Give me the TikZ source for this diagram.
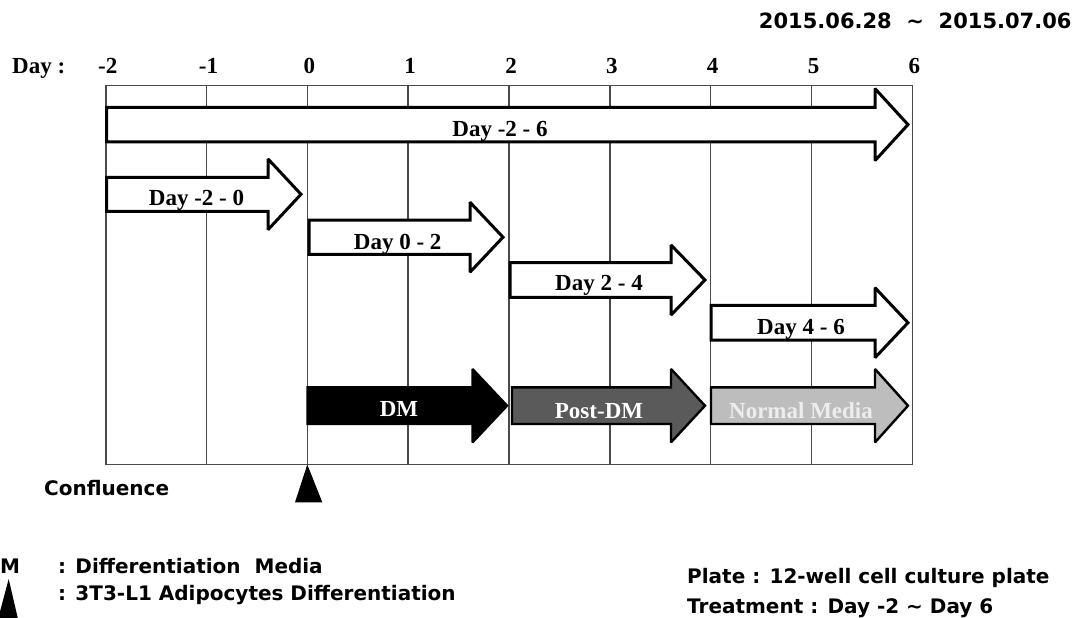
\documentclass[tikz,border=0pt]{standalone}
\usepackage{fontspec}
\setmainfont{Liberation Serif}
\newfontfamily\kosans{DejaVu Sans}
\definecolor{gridgray}{HTML}{4A4A4A}
\definecolor{postgray}{HTML}{5A5A5A}
\definecolor{normgray}{HTML}{BDBDBD}
\definecolor{normtext}{HTML}{EDEDED}
\newcommand\tlarrow[7]{\draw[#1] (#2,#5-#6) -- (#3,#5-#6) -- (#3,#5-#7) -- (#4,#5) -- (#3,#5+#7) -- (#3,#5+#6) -- (#2,#5+#6) -- cycle;}
\tikzset{
  gridline/.style={draw=gridgray, line width=1.6pt},
  outarrow/.style={draw=black, line width=3pt, fill=white, line join=miter, miter limit=2},
  media/.style={draw=black, line width=2.4pt, line join=miter, miter limit=2},
  lab/.style={font=\fontsize{23}{23}\selectfont\bfseries, inner sep=0pt, anchor=base},
  sans/.style={font=\kosans\bfseries\fontsize{20}{20}\selectfont, inner sep=0pt, anchor=base west},
}
\begin{document}
\begin{tikzpicture}[x=1pt,y=-1pt]
\useasboundingbox (0,0) rectangle (1079,618);
% grid
\draw[gridline] (105.7,85.5) rectangle (912.3,464.5);
\foreach \i in {1,...,7} {\draw[gridline] (105.7+\i*100.83,85.5) -- (105.7+\i*100.83,464.5);}
% axis labels
\node[lab, anchor=base west] (daylab) at (12,73.5) {Day :};
\foreach \d [count=\k from 0] in {-2,-1,0,1,2,3,4,5,6} {
  \node[lab] (ax\k) at (107.7+\k*100.83,73.5) {\d};
}
% outlined arrows
\tlarrow{outarrow}{106.5}{875}{908}{124.6}{17.2}{36}
\tlarrow{outarrow}{106.5}{268}{301}{194.3}{17}{35.4}
\tlarrow{outarrow}{309}{470}{503}{237.2}{17.1}{35}
\tlarrow{outarrow}{510}{671}{705}{280}{17.3}{35}
\tlarrow{outarrow}{711}{875}{908}{322.7}{17.3}{35}
\node[lab] (a1) at (500,136.7) {Day -2 - 6};
\node[lab] (a2) at (196.5,205) {Day -2 - 0};
\node[lab] (a3) at (397.7,249.3) {Day 0 - 2};
\node[lab] (a4) at (599,290.7) {Day 2 - 4};
\node[lab] (a5) at (801,334) {Day 4 - 6};
% media arrows
\tlarrow{media, fill=black}{307.5}{472.5}{507}{405.7}{18.3}{36.7}
\tlarrow{media, fill=postgray}{512}{671}{705}{405.7}{18.3}{36.7}
\tlarrow{media, fill=normgray}{711}{875}{908}{405.7}{18.3}{36.7}
\node[lab, text=white] (dm) at (399,416.7) {DM};
\node[lab, text=white] (pdm) at (599,418) {Post-DM};
\node[lab, text=normtext] (nm) at (801,418) {Normal Media};
% confluence marker
\fill (307.3,464.5) -- (322.3,502.3) -- (295,502.3) -- cycle;
\node[sans] (conf) at (44,495) {Confluence};
% date
\node[sans, anchor=base east, font=\kosans\bfseries\fontsize{21}{21}\selectfont] (date) at (1071.7,28.3) {2015.06.28\ \ \char`\~\ \ 2015.07.06};
% legend
\node[sans] (lm) at (0,573.3) {M};
\node[sans] (ldm) at (58,573.3) {: Differentiation\ \ Media};
\fill (8.7,579) -- (18,619) -- (-2,619) -- cycle;
\node[sans] (ltri) at (58,600) {: 3T3-L1 Adipocytes Differentiation};
\node[sans] (plate) at (687,583.3) {Plate : 12-well cell culture plate};
\node[sans] (treat) at (687,613.3) {Treatment : Day -2 \char`\~{} Day 6};
\end{tikzpicture}
\end{document}
